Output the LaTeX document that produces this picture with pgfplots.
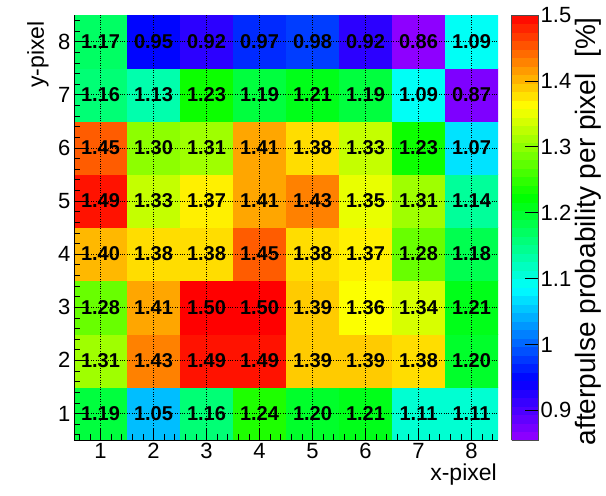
\documentclass[border=0pt]{standalone}
\usepackage{fontspec}
\setmainfont{Liberation Sans}
\usepackage{pgfplots}
\usepackage{pgfplotstable}
\pgfplotsset{compat=1.18}
\pgfplotstableread{
x y c
1 1 1.19
2 1 1.05
3 1 1.16
4 1 1.24
5 1 1.20
6 1 1.21
7 1 1.11
8 1 1.11
1 2 1.31
2 2 1.43
3 2 1.49
4 2 1.49
5 2 1.39
6 2 1.39
7 2 1.38
8 2 1.20
1 3 1.28
2 3 1.41
3 3 1.50
4 3 1.50
5 3 1.39
6 3 1.36
7 3 1.34
8 3 1.21
1 4 1.40
2 4 1.38
3 4 1.38
4 4 1.45
5 4 1.38
6 4 1.37
7 4 1.28
8 4 1.18
1 5 1.49
2 5 1.33
3 5 1.37
4 5 1.41
5 5 1.43
6 5 1.35
7 5 1.31
8 5 1.14
1 6 1.45
2 6 1.30
3 6 1.31
4 6 1.41
5 6 1.38
6 6 1.33
7 6 1.23
8 6 1.07
1 7 1.16
2 7 1.13
3 7 1.23
4 7 1.19
5 7 1.21
6 7 1.19
7 7 1.09
8 7 0.87
1 8 1.17
2 8 0.95
3 8 0.92
4 8 0.97
5 8 0.98
6 8 0.92
7 8 0.86
8 8 1.09
}\datatab
\pgfplotsset{colormap={rootpal}{rgb255(0pt)=(150,0,255) rgb255(40pt)=(0,0,255) rgb255(100pt)=(0,255,255) rgb255(160pt)=(0,255,0) rgb255(220pt)=(255,255,0) rgb255(280pt)=(255,0,0)}}
\begin{document}
\begin{tikzpicture}
\useasboundingbox (-74pt,-56pt) rectangle (532pt,440pt);
\begin{axis}[
  at={(0,0)}, anchor=south west,
  scale only axis, width=424pt, height=425pt,
  xmin=0.5, xmax=8.5, ymin=0.5, ymax=8.5,
  xtick={1,2,3,4,5,6,7,8}, ytick={1,2,3,4,5,6,7,8},
  minor xtick={0.6,0.8,...,8.4}, minor ytick={0.6,0.8,...,8.4},
  axis lines*=left,
  axis line style={-, black, line width=0.8pt},
  tick align=inside,
  major tick length=12pt, minor tick length=6pt,
  tick style={black, line width=0.6pt},
  grid=major, grid style={dotted, black, line width=0.5pt},
  axis on top,
  /pgf/number format/assume math mode=true,
  ticklabel style={font=\fontsize{22}{26}\selectfont},
  xlabel={x-pixel}, ylabel={y-pixel},
  label style={font=\fontsize{23}{27}\selectfont},
  xlabel style={at={(ticklabel cs:1)}, anchor=north east, inner sep=1pt},
  ylabel style={at={(ticklabel cs:1)}, anchor=south east, inner sep=6pt},
  colormap name=rootpal,
  point meta min=0.855, point meta max=1.5,
  colorbar sampled,
  colorbar style={
    samples=51,
    at={(parent axis.north east)}, anchor=north west, xshift=5pt,
    scale only axis, width=27pt, height=425pt,
    ytick={0.9,1,1.1,1.2,1.3,1.4,1.5},
    yticklabels={0.9,1,1.1,1.2,1.3,1.4,1.5},
    ytick pos=right, yticklabel pos=right,
    tick align=inside, major tick length=14pt,
    ytick style={black, line width=0.6pt},
    axis line style={black!70, line width=0.5pt},
    yticklabel style={font=\fontsize{22}{26}\selectfont, inner sep=2pt},
    ylabel={afterpulse probability per pixel\ \ [\%]},
    ylabel style={at={(ticklabel cs:1)}, anchor=north east, font=\fontsize{28}{31}\selectfont, inner sep=2pt},
  },
]
\addplot[matrix plot*, mesh/cols=8, point meta=explicit] table[x=x, y=y, meta=c] {\datatab};
\addplot[only marks, mark=none, point meta=explicit symbolic,
  nodes near coords,
  nodes near coords style={anchor=center, text=black, font=\bfseries\fontsize{20}{20}\selectfont}]
  table[x=x, y=y, meta=c] {\datatab};
\end{axis}
\end{tikzpicture}
\end{document}
